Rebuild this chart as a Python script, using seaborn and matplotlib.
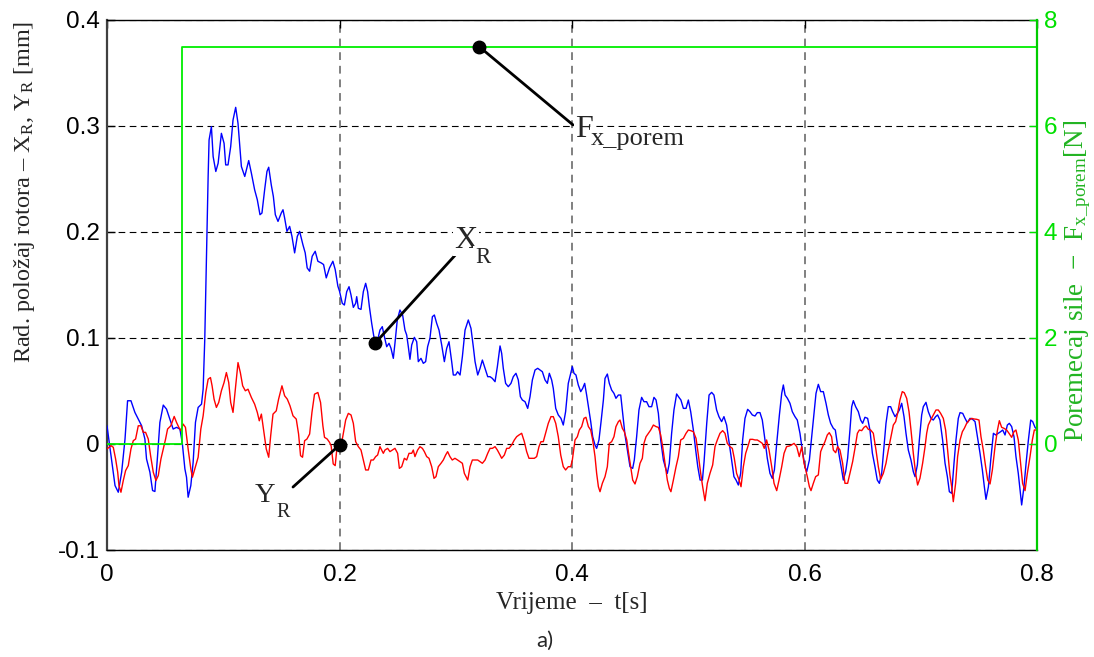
import numpy as np
import pandas as pd
import matplotlib
matplotlib.use("Agg")
import matplotlib.pyplot as plt
from matplotlib.transforms import offset_copy
import seaborn as sns

# ---------------- data ----------------
t_x = [0.0000, 0.0069, 0.0097, 0.0126, 0.0155, 0.0177, 0.0206, 0.0240, 0.0269, 0.0298,
       0.0326, 0.0340, 0.0369, 0.0392, 0.0412, 0.0435, 0.0455, 0.0484, 0.0512, 0.0541,
       0.0569, 0.0598, 0.0627, 0.0647, 0.0670, 0.0684, 0.0698, 0.0721, 0.0741, 0.0761,
       0.0784, 0.0813, 0.0827, 0.0841, 0.0856, 0.0870, 0.0878, 0.0898, 0.0913, 0.0936,
       0.0956, 0.0984, 0.1007, 0.1021, 0.1041, 0.1064, 0.1084, 0.1107, 0.1127, 0.1156,
       0.1185, 0.1219, 0.1242, 0.1270, 0.1293, 0.1316, 0.1333, 0.1356, 0.1376, 0.1391,
       0.1413, 0.1431, 0.1448, 0.1471, 0.1499, 0.1514, 0.1528, 0.1548, 0.1571, 0.1591,
       0.1614, 0.1637, 0.1657, 0.1685, 0.1705, 0.1722, 0.1743, 0.1765, 0.1791, 0.1814,
       0.1843, 0.1863, 0.1886, 0.1914, 0.1943, 0.1963, 0.1986, 0.2000,
       0.2024, 0.2042, 0.2062, 0.2082, 0.2099, 0.2119, 0.2139, 0.2148, 0.2162, 0.2185,
       0.2205, 0.2225, 0.2242, 0.2257, 0.2277, 0.2291, 0.2305, 0.2328, 0.2348, 0.2368,
       0.2386, 0.2406, 0.2426, 0.2443, 0.2463, 0.2477, 0.2497, 0.2520, 0.2543, 0.2563,
       0.2578, 0.2592, 0.2606, 0.2621, 0.2644, 0.2664, 0.2678, 0.2701, 0.2721, 0.2741,
       0.2758, 0.2778, 0.2799, 0.2816, 0.2836, 0.2856, 0.2879, 0.2902, 0.2922, 0.2942,
       0.2965, 0.2979, 0.2999, 0.3016, 0.3037, 0.3057, 0.3080, 0.3108, 0.3131, 0.3151,
       0.3166, 0.3189, 0.3209, 0.3229, 0.3252, 0.3275, 0.3295, 0.3315, 0.3338, 0.3358,
       0.3381, 0.3395, 0.3409, 0.3429, 0.3452, 0.3475, 0.3495, 0.3518, 0.3538, 0.3556,
       0.3573, 0.3596, 0.3619, 0.3639, 0.3659, 0.3682, 0.3705, 0.3725, 0.3745, 0.3768,
       0.3788, 0.3805, 0.3825, 0.3839, 0.3860, 0.3882, 0.3905, 0.3925, 0.3945, 0.3968,
       0.3989, 0.4003,
       0.4017, 0.4034, 0.4054, 0.4075, 0.4092, 0.4109, 0.4126, 0.4141, 0.4161, 0.4178,
       0.4198, 0.4212, 0.4232, 0.4250, 0.4270, 0.4284, 0.4304, 0.4321, 0.4341, 0.4361,
       0.4378, 0.4399, 0.4419, 0.4436, 0.4456, 0.4476, 0.4499, 0.4522, 0.4536, 0.4556,
       0.4576, 0.4599, 0.4619, 0.4642, 0.4662, 0.4685, 0.4705, 0.4723, 0.4743, 0.4763,
       0.4786, 0.4806, 0.4820, 0.4837, 0.4857, 0.4877, 0.4900, 0.4920, 0.4937, 0.4958,
       0.4981, 0.5001, 0.5021, 0.5044, 0.5064, 0.5082, 0.5102, 0.5122, 0.5136, 0.5159,
       0.5179, 0.5201, 0.5221, 0.5244, 0.5264, 0.5287, 0.5307, 0.5330, 0.5353, 0.5373,
       0.5393, 0.5411, 0.5431, 0.5451, 0.5468, 0.5488, 0.5511, 0.5531, 0.5551, 0.5574,
       0.5594, 0.5617, 0.5637, 0.5660, 0.5680, 0.5703, 0.5723, 0.5741, 0.5761, 0.5784,
       0.5804, 0.5818, 0.5833, 0.5853, 0.5875, 0.5895, 0.5918, 0.5938, 0.5961, 0.5981,
       0.6004,
       0.6019, 0.6042, 0.6062, 0.6082, 0.6099, 0.6119, 0.6139, 0.6162, 0.6185, 0.6205,
       0.6225, 0.6248, 0.6265, 0.6282, 0.6300, 0.6320, 0.6334, 0.6354, 0.6371, 0.6391,
       0.6406, 0.6420, 0.6440, 0.6463, 0.6483, 0.6500, 0.6520, 0.6543, 0.6563, 0.6584,
       0.6606, 0.6626, 0.6644, 0.6664, 0.6684, 0.6701, 0.6721, 0.6741, 0.6758, 0.6779,
       0.6799, 0.6816, 0.6836, 0.6856, 0.6873, 0.6893, 0.6916, 0.6936, 0.6951, 0.6971,
       0.6988, 0.7008, 0.7022, 0.7045, 0.7065, 0.7088, 0.7108, 0.7128, 0.7145, 0.7165,
       0.7188, 0.7209, 0.7229, 0.7246, 0.7266, 0.7286, 0.7303, 0.7323, 0.7338, 0.7361,
       0.7381, 0.7401, 0.7424, 0.7446, 0.7467, 0.7487, 0.7510, 0.7530, 0.7547, 0.7561,
       0.7582, 0.7602, 0.7625, 0.7645, 0.7667, 0.7687, 0.7705, 0.7725, 0.7745, 0.7762,
       0.7782, 0.7802, 0.7819, 0.7839, 0.7854, 0.7868, 0.7888, 0.7906, 0.7926, 0.7946,
       0.7963, 0.7983, 0.8000]

x_r = [0.0172, -0.0392, -0.0455, -0.0266, 0.0047, 0.0408, 0.0408, 0.0298, 0.0235, 0.0172,
       0.0047, -0.0141, -0.0266, -0.0439, -0.0448, -0.0110, 0.0204, 0.0367, 0.0329, 0.0235,
       0.0141, 0.0157, 0.0141, 0.0016, -0.0235, -0.0313, -0.0502, -0.0392, -0.0172, 0.0204,
       0.0345, 0.0376, 0.0517, 0.0987, 0.1771, 0.2524, 0.2868, 0.2994, 0.2712, 0.2571,
       0.2649, 0.2931, 0.2837, 0.2633, 0.2633, 0.2806, 0.3056, 0.3176, 0.3025, 0.2618,
       0.2524, 0.2674, 0.2555, 0.2398, 0.2304, 0.2163, 0.2179, 0.2398, 0.2571, 0.2611,
       0.2445, 0.2335, 0.2163, 0.2100, 0.2179, 0.2210, 0.2132, 0.2006, 0.2053, 0.1959,
       0.1803, 0.1959, 0.2006, 0.1881, 0.1803, 0.1661, 0.1630, 0.1771, 0.1818, 0.1724,
       0.1708, 0.1693, 0.1567, 0.1661, 0.1724, 0.1646, 0.1489, 0.1442,
       0.1327, 0.1311, 0.1437, 0.1484, 0.1406, 0.1289, 0.1327, 0.1390, 0.1280, 0.1270,
       0.1437, 0.1516, 0.1437, 0.1296, 0.1138, 0.1044, 0.0950, 0.0981, 0.1075, 0.1107,
       0.1013, 0.0918, 0.0950, 0.0903, 0.0808, 0.0950, 0.1170, 0.1264, 0.1217, 0.1075,
       0.1028, 0.0918, 0.0799, 0.0934, 0.1006, 0.0965, 0.0777, 0.0808, 0.0761, 0.0777,
       0.0918, 0.0997, 0.1201, 0.1217, 0.1138, 0.1075, 0.0934, 0.0777, 0.0903, 0.0965,
       0.0777, 0.0651, 0.0651, 0.0682, 0.0651, 0.0824, 0.1075, 0.1170, 0.1091, 0.0918,
       0.0777, 0.0651, 0.0714, 0.0792, 0.0714, 0.0635, 0.0635, 0.0619, 0.0588, 0.0730,
       0.0925, 0.0855, 0.0714, 0.0572, 0.0541, 0.0572, 0.0635, 0.0667, 0.0604, 0.0447,
       0.0415, 0.0399, 0.0336, 0.0447, 0.0604, 0.0698, 0.0714, 0.0698, 0.0682, 0.0604,
       0.0572, 0.0667, 0.0604, 0.0525, 0.0336, 0.0274, 0.0242, 0.0179, 0.0305, 0.0572,
       0.0667, 0.0730,
       0.0667, 0.0651, 0.0557, 0.0494, 0.0525, 0.0572, 0.0462, 0.0352, 0.0211, 0.0069,
       -0.0009, -0.0041, 0.0038, 0.0211, 0.0415, 0.0619, 0.0660, 0.0572, 0.0509, 0.0478,
       0.0431, 0.0462, 0.0462, 0.0289, 0.0085, -0.0057, -0.0214, -0.0230, -0.0151, 0.0069,
       0.0321, 0.0440, 0.0399, 0.0399, 0.0352, 0.0352, 0.0440, 0.0415, 0.0289, 0.0038,
       -0.0151, -0.0230, -0.0277, -0.0182, 0.0101, 0.0321, 0.0472, 0.0440, 0.0415, 0.0336,
       0.0336, 0.0415, 0.0305, 0.0132, -0.0057, -0.0214, -0.0340, -0.0340, -0.0167, 0.0195,
       0.0462, 0.0487, 0.0462, 0.0321, 0.0258, 0.0211, 0.0258, 0.0179, 0.0006, -0.0151,
       -0.0308, -0.0340, -0.0387, -0.0277, 0.0038, 0.0242, 0.0327, 0.0305, 0.0274, 0.0264,
       0.0296, 0.0296, 0.0226, 0.0038, -0.0135, -0.0277, -0.0324, -0.0245, 0.0006, 0.0274,
       0.0478, 0.0557, 0.0462, 0.0431, 0.0384, 0.0305, 0.0258, 0.0226, 0.0101, -0.0057,
       -0.0214,
       -0.0261, -0.0151, 0.0069, 0.0289, 0.0478, 0.0563, 0.0494, 0.0494, 0.0384, 0.0274,
       0.0195, 0.0148, 0.0132, 0.0006, -0.0119, -0.0245, -0.0340, -0.0261, -0.0135, 0.0132,
       0.0352, 0.0409, 0.0352, 0.0305, 0.0226, 0.0195, 0.0252, 0.0242, 0.0132, -0.0088,
       -0.0214, -0.0340, -0.0371, -0.0277, -0.0025, 0.0195, 0.0352, 0.0352, 0.0305, 0.0258,
       0.0289, 0.0321, 0.0384, 0.0258, 0.0101, -0.0057, -0.0151, -0.0261, -0.0308, -0.0198,
       0.0038, 0.0274, 0.0352, 0.0393, 0.0305, 0.0242, 0.0226, 0.0258, 0.0274, 0.0226,
       0.0038, -0.0182, -0.0308, -0.0450, -0.0465, -0.0182, 0.0038, 0.0242, 0.0296, 0.0289,
       0.0242, 0.0201, 0.0242, 0.0233, 0.0211, 0.0069, -0.0088, -0.0245, -0.0403, -0.0522,
       -0.0403, -0.0151, 0.0101, 0.0085, 0.0101, 0.0116, 0.0132, 0.0085, 0.0179, 0.0195,
       0.0164, 0.0069, -0.0119, -0.0277, -0.0434, -0.0575, -0.0403, -0.0182, 0.0038, 0.0226,
       0.0211, 0.0157, 0.0138]

t_y = [0.0000, 0.0034, 0.0054, 0.0074, 0.0092, 0.0103, 0.0120, 0.0140, 0.0160, 0.0183,
       0.0206, 0.0226, 0.0246, 0.0269, 0.0292, 0.0312, 0.0332, 0.0355, 0.0375, 0.0398,
       0.0421, 0.0441, 0.0464, 0.0484, 0.0504, 0.0521, 0.0549, 0.0578, 0.0598, 0.0618,
       0.0635, 0.0655, 0.0675, 0.0698, 0.0721, 0.0735, 0.0755, 0.0784, 0.0807, 0.0827,
       0.0850, 0.0870, 0.0890, 0.0904, 0.0921, 0.0941, 0.0961, 0.0984, 0.1007, 0.1027,
       0.1047, 0.1064, 0.1084, 0.1104, 0.1127, 0.1147, 0.1167, 0.1190, 0.1213, 0.1242,
       0.1270, 0.1293, 0.1310, 0.1328, 0.1350, 0.1370, 0.1391, 0.1408, 0.1428, 0.1456,
       0.1476, 0.1505, 0.1528, 0.1551, 0.1574, 0.1600, 0.1628, 0.1648, 0.1665, 0.1682,
       0.1700, 0.1720, 0.1743, 0.1763, 0.1785, 0.1814, 0.1837, 0.1857, 0.1871, 0.1894,
       0.1914, 0.1928, 0.1946, 0.1963, 0.1977, 0.1994,
       0.2013, 0.2033, 0.2053, 0.2076, 0.2099, 0.2119, 0.2139, 0.2162, 0.2185, 0.2205,
       0.2225, 0.2248, 0.2271, 0.2291, 0.2311, 0.2328, 0.2348, 0.2363, 0.2377, 0.2391,
       0.2414, 0.2434, 0.2454, 0.2477, 0.2500, 0.2515, 0.2535, 0.2558, 0.2578, 0.2598,
       0.2621, 0.2635, 0.2649, 0.2672, 0.2692, 0.2713, 0.2730, 0.2750, 0.2770, 0.2793,
       0.2813, 0.2830, 0.2850, 0.2873, 0.2893, 0.2913, 0.2930, 0.2950, 0.2970, 0.2993,
       0.3016, 0.3037, 0.3057, 0.3074, 0.3088, 0.3103, 0.3123, 0.3143, 0.3166, 0.3189,
       0.3209, 0.3229, 0.3252, 0.3275, 0.3295, 0.3315, 0.3338, 0.3358, 0.3381, 0.3395,
       0.3418, 0.3438, 0.3458, 0.3481, 0.3504, 0.3524, 0.3544, 0.3567, 0.3590, 0.3610,
       0.3630, 0.3653, 0.3676, 0.3696, 0.3716, 0.3733, 0.3753, 0.3773, 0.3796, 0.3819,
       0.3839, 0.3860, 0.3882, 0.3903, 0.3925, 0.3945, 0.3968, 0.3989, 0.4003,
       0.4026, 0.4046, 0.4063, 0.4083, 0.4103, 0.4120, 0.4141, 0.4161, 0.4178, 0.4198,
       0.4212, 0.4227, 0.4241, 0.4261, 0.4284, 0.4304, 0.4321, 0.4341, 0.4361, 0.4378,
       0.4399, 0.4413, 0.4433, 0.4450, 0.4471, 0.4485, 0.4505, 0.4522, 0.4542, 0.4562,
       0.4585, 0.4605, 0.4619, 0.4637, 0.4657, 0.4677, 0.4700, 0.4723, 0.4743, 0.4763,
       0.4780, 0.4800, 0.4820, 0.4837, 0.4851, 0.4872, 0.4895, 0.4915, 0.4935, 0.4958,
       0.4981, 0.5001, 0.5021, 0.5044, 0.5067, 0.5087, 0.5107, 0.5124, 0.5144, 0.5164,
       0.5187, 0.5210, 0.5230, 0.5250, 0.5273, 0.5296, 0.5316, 0.5336, 0.5359, 0.5379,
       0.5396, 0.5416, 0.5437, 0.5454, 0.5474, 0.5494, 0.5517, 0.5531, 0.5554, 0.5574,
       0.5594, 0.5617, 0.5637, 0.5654, 0.5674, 0.5695, 0.5718, 0.5738, 0.5761, 0.5781,
       0.5804, 0.5824, 0.5846, 0.5869, 0.5889, 0.5910, 0.5933, 0.5955, 0.5976, 0.5996,
       0.6004, 0.6024, 0.6042, 0.6056, 0.6076, 0.6096, 0.6119, 0.6139, 0.6156, 0.6176,
       0.6196, 0.6213, 0.6233, 0.6248, 0.6268, 0.6285, 0.6305, 0.6328, 0.6348, 0.6371,
       0.6391, 0.6414, 0.6434, 0.6455, 0.6472, 0.6492, 0.6512, 0.6529, 0.6549, 0.6569,
       0.6592, 0.6615, 0.6635, 0.6655, 0.6678, 0.6701, 0.6721, 0.6741, 0.6764, 0.6784,
       0.6801, 0.6821, 0.6841, 0.6858, 0.6879, 0.6899, 0.6916, 0.6936, 0.6956, 0.6973,
       0.6993, 0.7016, 0.7037, 0.7051, 0.7065, 0.7085, 0.7108, 0.7131, 0.7151, 0.7171,
       0.7194, 0.7214, 0.7231, 0.7251, 0.7266, 0.7280, 0.7300, 0.7317, 0.7338, 0.7358,
       0.7375, 0.7395, 0.7418, 0.7438, 0.7458, 0.7481, 0.7501, 0.7518, 0.7538, 0.7558,
       0.7576, 0.7596, 0.7616, 0.7639, 0.7659, 0.7676, 0.7696, 0.7716, 0.7739, 0.7759,
       0.7782, 0.7802, 0.7819, 0.7839, 0.7859, 0.7876, 0.7897, 0.7917, 0.7940, 0.7960,
       0.7977, 0.8000]

y_r = [-0.0047, -0.0016, -0.0031, -0.0141, -0.0266, -0.0392, -0.0455, -0.0345, -0.0251, -0.0204,
       -0.0047, 0.0031, 0.0047, 0.0172, 0.0172, 0.0110, 0.0110, 0.0047, -0.0110, -0.0266,
       -0.0345, -0.0298, -0.0141, -0.0047, 0.0047, 0.0141, 0.0172, 0.0260, 0.0204, 0.0157,
       0.0125, 0.0188, 0.0157, -0.0047, -0.0235, -0.0313, -0.0235, -0.0125, 0.0141, 0.0266,
       0.0486, 0.0611, 0.0627, 0.0549, 0.0423, 0.0345, 0.0392, 0.0502, 0.0580, 0.0674,
       0.0580, 0.0392, 0.0298, 0.0517, 0.0768, 0.0674, 0.0549, 0.0502, 0.0517, 0.0439,
       0.0376, 0.0298, 0.0219, 0.0282, 0.0110, -0.0047, -0.0125, 0.0078, 0.0282, 0.0313,
       0.0423, 0.0549, 0.0455, 0.0423, 0.0361, 0.0266, 0.0235, 0.0094, -0.0110, -0.0125,
       0.0031, 0.0047, 0.0094, 0.0298, 0.0470, 0.0486, 0.0392, 0.0172, 0.0063, 0.0047,
       0.0016, -0.0016, -0.0188, -0.0204, -0.0047, 0.0016,
       -0.0025, 0.0101, 0.0226, 0.0289, 0.0274, 0.0195, 0.0022, -0.0025, -0.0057, -0.0151,
       -0.0245, -0.0245, -0.0151, -0.0151, -0.0119, -0.0104, -0.0025, -0.0057, -0.0088, -0.0057,
       -0.0041, -0.0072, -0.0057, -0.0041, -0.0088, -0.0230, -0.0214, -0.0135, -0.0151, -0.0088,
       -0.0088, -0.0057, -0.0119, -0.0057, -0.0025, -0.0041, -0.0072, -0.0119, -0.0135, -0.0214,
       -0.0324, -0.0308, -0.0214, -0.0182, -0.0151, -0.0104, -0.0072, -0.0119, -0.0151, -0.0135,
       -0.0151, -0.0167, -0.0182, -0.0277, -0.0308, -0.0340, -0.0214, -0.0151, -0.0151, -0.0151,
       -0.0167, -0.0182, -0.0151, -0.0088, -0.0041, -0.0041, -0.0025, -0.0057, -0.0104, -0.0135,
       -0.0104, -0.0041, -0.0041, -0.0009, 0.0038, 0.0069, 0.0085, 0.0101, 0.0022, -0.0072,
       -0.0135, -0.0135, -0.0135, -0.0119, -0.0025, 0.0022, 0.0022, 0.0101, 0.0195, 0.0258,
       0.0258, 0.0195, 0.0069, -0.0104, -0.0214, -0.0245, -0.0214, -0.0214, -0.0151,
       0.0038, 0.0069, 0.0132, 0.0164, 0.0242, 0.0252, 0.0164, 0.0132, 0.0038, -0.0119,
       -0.0277, -0.0403, -0.0450, -0.0371, -0.0308, -0.0214, 0.0006, 0.0022, 0.0069, 0.0164,
       0.0211, 0.0226, 0.0148, 0.0116, 0.0038, -0.0072, -0.0214, -0.0340, -0.0377, -0.0308,
       -0.0182, -0.0135, 0.0006, 0.0069, 0.0101, 0.0132, 0.0179, 0.0164, 0.0157, 0.0085,
       -0.0025, -0.0182, -0.0340, -0.0418, -0.0450, -0.0340, -0.0214, -0.0119, 0.0038, 0.0053,
       0.0101, 0.0132, 0.0126, 0.0116, 0.0053, -0.0104, -0.0277, -0.0403, -0.0535, -0.0371,
       -0.0277, -0.0198, -0.0025, 0.0038, 0.0101, 0.0126, 0.0101, 0.0006, -0.0025, -0.0041,
       -0.0135, -0.0277, -0.0340, -0.0403, -0.0214, -0.0088, -0.0009, 0.0044, 0.0044, 0.0038,
       0.0038, 0.0022, 0.0006, -0.0041, 0.0038, -0.0057, -0.0214, -0.0371, -0.0440, -0.0340,
       -0.0214, -0.0088, -0.0025, -0.0019, -0.0009, 0.0006, -0.0025, -0.0119, -0.0025, -0.0182,
       -0.0214, -0.0308, -0.0403, -0.0440, -0.0371, -0.0308, -0.0292, -0.0072, -0.0025, 0.0022,
       0.0085, 0.0107, 0.0069, -0.0057, -0.0082, -0.0025, -0.0057, -0.0182, -0.0371, -0.0371,
       -0.0277, -0.0167, -0.0041, 0.0101, 0.0132, 0.0126, 0.0157, 0.0170, 0.0138, 0.0132,
       0.0101, -0.0057, -0.0214, -0.0333, -0.0277, -0.0182, -0.0057, 0.0053, 0.0179, 0.0211,
       0.0289, 0.0415, 0.0494, 0.0484, 0.0431, 0.0305, 0.0132, -0.0088, -0.0277, -0.0387,
       -0.0324, -0.0182, -0.0025, 0.0101, 0.0179, 0.0226, 0.0274, 0.0321, 0.0321, 0.0289,
       0.0242, 0.0132, -0.0057, -0.0292, -0.0403, -0.0544, -0.0371, -0.0119, 0.0038, 0.0116,
       0.0148, 0.0195, 0.0226, 0.0242, 0.0236, 0.0233, 0.0226, 0.0069, -0.0057, -0.0214,
       -0.0340, -0.0377, -0.0245, -0.0025, 0.0126, 0.0220, 0.0157, 0.0148, 0.0132, 0.0101,
       0.0063, 0.0116, 0.0132, 0.0038, -0.0182, -0.0371, -0.0440, -0.0277, -0.0119, 0.0038,
       0.0132, 0.0132]

t_force = [0.0, 0.0645, 0.8]
f_porem = [0.0, 7.5, 7.5]

x_ticks = [0, 0.2, 0.4, 0.6, 0.8]
x_ticklabels = ["0", "0.2", "0.4", "0.6", "0.8"]
y_ticks = [-0.1, 0, 0.1, 0.2, 0.3, 0.4]
y_ticklabels = ["-0.1", "0", "0.1", "0.2", "0.3", "0.4"]
f_ticks = [0, 2, 4, 6, 8]
f_ticklabels = ["0", "2", "4", "6", "8"]

# times at which the callout dots sit on the curves
t_mark_x = 0.2305
t_mark_y = 0.2004
t_mark_f = 0.32

# ---------------- style ----------------
sns.set_theme(style="white")
plt.rcParams["font.family"] = ["Liberation Sans", "DejaVu Sans"]
plt.rcParams["mathtext.fontset"] = "custom"
plt.rcParams["mathtext.rm"] = "Liberation Serif"
plt.rcParams["mathtext.it"] = "Liberation Serif:italic"
plt.rcParams["mathtext.default"] = "rm"

SERIF = ["Liberation Serif", "DejaVu Serif"]
GREEN_LINE = "#00EE00"
GREEN_TXT = "#00E000"
GREEN_LBL = "#22B422"

fig = plt.figure(figsize=(10.94, 6.57), dpi=100)
fig.patch.set_facecolor("white")
ax = fig.add_axes([107 / 1094, 1 - 550 / 657, 930 / 1094, 530 / 657])
ax.set_facecolor("white")

df_x = pd.DataFrame({"t": t_x, "v": x_r})
df_y = pd.DataFrame({"t": t_y, "v": y_r})
sns.lineplot(data=df_x, x="t", y="v", ax=ax, color="#0000FF", lw=1.0,
             estimator=None, sort=False, zorder=3)
sns.lineplot(data=df_y, x="t", y="v", ax=ax, color="#FF0000", lw=1.0,
             estimator=None, sort=False, zorder=3)

ax.set_xlim(0, 0.8)
ax.set_ylim(-0.1, 0.4)
ax.set_xticks(x_ticks)
ax.set_xticklabels(x_ticklabels)
ax.set_yticks(y_ticks)
ax.set_yticklabels(y_ticklabels)
ax.tick_params(axis="both", direction="in", length=6, width=1, labelsize=17.5,
               colors="black", pad=5)
ax.tick_params(axis="x", top=True, pad=10)

ax.set_axisbelow(True)
ax.xaxis.grid(True, color="#808080", ls=(0, (4, 3)), lw=1.4)
ax.yaxis.grid(True, color="black", ls=(0, (6, 4)), lw=0.8)

for side in ["top", "bottom"]:
    ax.spines[side].set_color("black")
    ax.spines[side].set_linewidth(1.0)
ax.spines["left"].set_color("#404040")
ax.spines["left"].set_linewidth(1.6)
ax.spines["right"].set_visible(False)

ax.set_xlabel("Vrijeme  –  t[s]", fontsize=18, family=SERIF)
ax.xaxis.set_label_coords(0.5, -0.079)
ax.set_ylabel(r"Rad. položaj rotora – X$_\mathrm{R}$, Y$_\mathrm{R}$ [mm]",
              fontsize=17.5, family=SERIF)
ax.yaxis.set_label_coords(-0.075, 0.675)

# right axis: disturbance force
ax2 = ax.twinx()
ax2.set_ylim(-2, 8)
sns.lineplot(x=t_force, y=f_porem, ax=ax2, color=GREEN_LINE, lw=1.3,
             drawstyle="steps-post", estimator=None, sort=False)
ax2.set_yticks(f_ticks)
ax2.set_yticklabels(f_ticklabels)
ax2.tick_params(axis="y", direction="in", length=6, width=1, labelsize=17.5,
                colors=GREEN_TXT, pad=5)
for side in ["top", "bottom", "left"]:
    ax2.spines[side].set_visible(False)
ax2.spines["right"].set_color("#00CC00")
ax2.spines["right"].set_linewidth(1.6)
ax2.set_ylabel(r"Poremecaj sile  $-$  F$_\mathrm{x\_porem}$[N]", fontsize=19.5,
               family=SERIF, color=GREEN_LBL)
ax2.yaxis.set_label_coords(1.027, 0.508)


# ---------------- callouts ----------------
def callout(axis, t0, v0, t1, v1):
    axis.annotate("", xy=(t0, v0), xytext=(t1, v1),
                  arrowprops=dict(arrowstyle="-", color="black", lw=2,
                                  shrinkA=0, shrinkB=0), zorder=5)
    axis.plot([t0], [v0], "o", color="black", ms=9, zorder=6)


def sub_text(axis, x, y, main, sub, size, sub_size, dx, dy, bg=True):
    box = dict(facecolor="white", edgecolor="none", pad=1) if bg else None
    axis.text(x, y, main, fontsize=size, family=SERIF, ha="left", va="baseline",
              zorder=6, bbox=box)
    tr = offset_copy(axis.transData, fig=fig, x=dx, y=dy, units="points")
    axis.text(x, y, sub, transform=tr, fontsize=sub_size, family=SERIF, ha="left",
              va="baseline", zorder=6, bbox=box)


vx = float(np.interp(t_mark_x, t_x, x_r))
vy = float(np.interp(t_mark_y, t_y, y_r))
vf = f_porem[-1]

callout(ax, t_mark_x, vx, 0.2994, 0.178)
sub_text(ax, 0.2985, 0.185, "X", "R", 23, 16.5, 15.0, -10.8)

callout(ax, t_mark_y, vy, 0.160, -0.0406)
sub_text(ax, 0.1273, -0.0547, "Y", "R", 20.5, 14.5, 15.8, -10.5, bg=False)

callout(ax2, t_mark_f, vf, 0.4009, 6.02)
sub_text(ax2, 0.4026, 5.79, "F", "x_porem", 23, 19, 11.5, -5.8)

fig.text(545 / 1094, 1 - 641 / 657, "a)", fontsize=16, family=["Lato", "DejaVu Sans"],
         ha="center", va="center")

fig.savefig("out.png", dpi=100, facecolor="white")
